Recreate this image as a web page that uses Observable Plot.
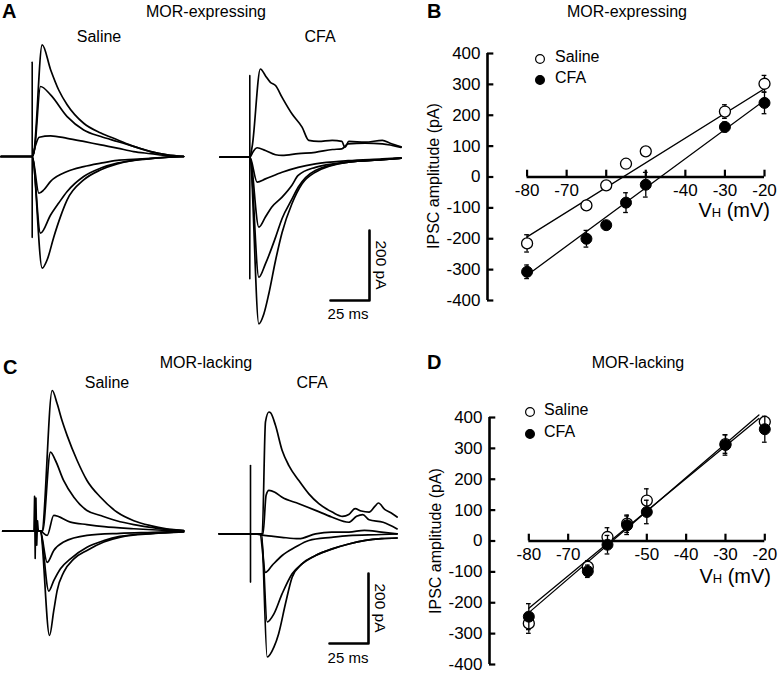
<!DOCTYPE html>
<html>
<head>
<meta charset="utf-8">
<script src="https://cdn.jsdelivr.net/npm/d3@7"></script>
<script src="https://cdn.jsdelivr.net/npm/@observablehq/plot@0.6"></script>
<style>
  body { margin: 0; background: white; }
  #fig { position: relative; width: 779px; height: 673px; overflow: hidden; background: white;
         font-family: "Liberation Sans", Arial, Helvetica, sans-serif; color: black; }
  .lbl { position: absolute; white-space: nowrap; line-height: 1; }
  .pl { position: absolute; }
</style>
</head>
<body>
<div id="fig"></div>
<script>
// ---------------- DATA ----------------
// IV relations (B, D): holding potential (mV) and IPSC amplitude (pA)
const vh = [-80, -65, -60, -55, -50, -30, -20];
const bSaline = [-215, -92, -27, 43, 83, 212, 302];
const bSalineErr = [28, 15, 8, 8, 8, 22, 27];
const bCfa = [-307, -200, -156, -83, -25, 162, 240];
const bCfaErr = [22, 27, 10, 32, 40, 16, 35];
const bFitSaline = [[-80, -194], [-20, 286]];
const bFitCfa = [[-80, -318], [-20, 248]];

const dSaline = [-267, -84, 13, 56, 131, 314, 386];
const dSalineErr = [32, 20, 30, 28, 38, 30, 10];
const dCfa = [-245, -98, -12, 51, 94, 311, 362];
const dCfaErr = [42, 20, 30, 30, 38, 33, 42];
const dFitSaline = [[-80, -232], [-21.5, 408]];
const dFitCfa = [[-80, -218], [-21.5, 397]];

const yTicks = [400, 300, 200, 100, 0, -100, -200, -300, -400];
const xTicks = [-80, -70, -60, -50, -40, -30, -20];
const xLabelsB = [-80, -70, -40, -30, -20];
const xLabelsD = [-80, -70, -50, -40, -30, -20];

// IPSC traces: [time after stimulus (ms), current (pA)]
const aSalTraces = [
  [[-20,0],[0,0],[1,10],[6.4,319],[11.8,248],[17,190],[22.4,148],[33,95],[44,67],[54.5,48],[65,29],[76,14],[86.5,5],[97,0]],
  [[-20,0],[0,0],[1.5,20],[5.3,200],[11.8,176],[22.4,114],[33,76],[44,57],[54.5,43],[65,29],[76,14],[86.5,5],[97,0]],
  [[-20,0],[0,0],[2,30],[4.5,55],[11.8,59],[22.4,52],[33,43],[44,33],[54.5,24],[65,14],[76,8],[86.5,2],[97,0]],
  [[-20,0],[0,0],[4.3,-105],[7.5,-95],[11.8,-71],[22.4,-43],[33,-29],[44,-19],[54.5,-11],[65,-8],[76,-5],[97,0]],
  [[-20,0],[0,0],[5.3,-219],[11.8,-167],[17,-133],[22.4,-100],[33,-57],[44,-33],[54.5,-19],[65,-11],[76,-6],[97,0]],
  [[-20,0],[0,0],[6.4,-319],[9.6,-295],[13.9,-229],[18.2,-171],[22.4,-124],[33,-67],[44,-38],[54.5,-21],[65,-11],[76,-6],[86.5,-2],[97,0]]
];
const aSalArtifact = [[0, 269], [0, -231]];

const aCfaTraces = [
  [[-19,0],[0,0],[1.5,30],[6.8,252],[10,233],[13.2,214],[16.5,205],[20.7,171],[27,124],[33.5,86],[37.8,48],[44,45],[52.8,48],[59,45],[61,28],[63.5,45],[74,43],[85,48],[90,40],[97,30]],
  [[-19,0],[0,0],[2,15],[4.7,27],[10,19],[16.5,7],[20.7,5],[31,10],[42,14],[53,22],[59,24],[63,38],[74,40],[85,38],[97,28]],
  [[-19,0],[0,0],[4.7,-71],[10,-62],[20.7,-43],[31,-29],[42,-19],[63,-10],[85,-5],[97,-2]],
  [[-19,0],[0,0],[5.8,-200],[10,-171],[14,-143],[20.7,-114],[27,-80],[31,-52],[42,-29],[63,-14],[85,-7],[97,-3]],
  [[-19,0],[0,0],[5.8,-343],[10,-305],[16.5,-229],[20.7,-175],[27,-120],[31,-86],[42,-38],[63,-14],[85,-7],[97,-3]],
  [[-19,0],[0,0],[5.8,-476],[9,-448],[12.2,-390],[16.5,-295],[20.7,-215],[27,-133],[33.5,-76],[42,-43],[63,-14],[85,-7],[97,-3]]
];
const aCfaArtifact = [[0, 233], [0, -347]];

const cSalTraces = [
  [[-21,0],[0,0],[4,0],[10.7,402],[13.9,364],[17,316],[20.3,273],[26.7,202],[33,145],[41.7,97],[52.4,54],[63,30],[73.7,16],[84,7],[95,2]],
  [[-21,0],[0,0],[4.5,0],[9.6,226],[12.8,202],[18,145],[24.6,97],[33,59],[41.7,45],[52,30],[63,19],[74,11],[84,5],[95,2]],
  [[-21,0],[0,0],[3,0],[7.5,-12],[11.7,45],[22.4,26],[33,19],[44,13],[63,7],[84,2],[95,0]],
  [[-21,0],[0,0],[3,0],[7.5,-89],[11.7,-55],[18,-31],[33,-12],[54,-6],[75,-3],[95,0]],
  [[-21,0],[0,0],[3,0],[8.5,-171],[11.7,-141],[16,-107],[22.4,-79],[33,-46],[43.8,-27],[54,-15],[75,-6],[95,-2]],
  [[-21,0],[0,0],[3,0],[9,-298],[11.7,-227],[13.9,-169],[18.1,-117],[24.6,-79],[33,-55],[43.8,-31],[54.5,-17],[75,-7],[95,-2]]
];
const cSalArtifact = [[-1,0],[-0.6,100],[-0.2,-78],[0.3,95],[0.8,-40],[1.3,30],[1.8,0]];

const cCfaTraces = [
  [[-20,0],[0,0],[7.5,0],[9.6,320],[11.8,348],[13,345],[16,310],[20.3,238],[24.6,195],[31,152],[37.4,114],[43.8,86],[52.4,62],[59,50],[63,55],[67,72],[71,65],[76,62],[80,80],[82,88],[86,70],[90,60],[94,48]],
  [[-20,0],[0,0],[8,0],[10,110],[11.8,124],[15.6,119],[20,105],[31,86],[41.7,67],[52,48],[63,33],[68,50],[72,55],[76,40],[85,33],[94,14]],
  [[-20,0],[0,0],[10,-5],[20,-10],[31,-14],[41.7,0],[52,5],[63,5],[73,10],[84,5],[94,0]],
  [[-20,0],[0,0],[6,0],[9.6,-110],[13.9,-90],[20.3,-62],[28.8,-38],[37.4,-19],[52,-10],[63,-5],[84,-2],[94,0]],
  [[-20,0],[0,0],[7,0],[10.7,-252],[15,-229],[20.3,-171],[26.7,-114],[33,-86],[41.7,-62],[52.4,-43],[63,-29],[73.7,-19],[84,-14],[94,-12]],
  [[-20,0],[0,0],[7,0],[10.7,-352],[15,-324],[18,-286],[22.4,-200],[26.7,-124],[33,-86],[41.7,-62],[52.4,-43],[63,-29],[73.7,-19],[84,-14],[94,-12]]
];
const cCfaArtifact = [[0, 195], [0, -138]];

const scaleBarMs = 25;
const scaleBarPA = 200;

// ---------------- LAYOUT ----------------
const PX_MS = 39 / 25;     // pixels per ms
const PX_PA = 70 / 200;    // pixels per pA
const FONT = '"Liberation Sans", Arial, Helvetica, sans-serif';
const fig = document.getElementById("fig");

function label(html, x, y, o = {}) {
  const d = document.createElement("div");
  d.className = "lbl";
  d.innerHTML = html;
  d.style.left = x + "px";
  d.style.top = y + "px";
  d.style.fontSize = (o.size || 16) + "px";
  if (o.bold) d.style.fontWeight = "bold";
  const tx = o.anchor === "start" ? "0" : o.anchor === "end" ? "-100%" : "-50%";
  d.style.transform = `translate(${tx}, -50%)` + (o.rotate ? ` rotate(${o.rotate}deg)` : "");
  fig.appendChild(d);
}

function place(svg, left, top) {
  const w = document.createElement("div");
  w.className = "pl";
  w.style.left = left + "px";
  w.style.top = top + "px";
  w.appendChild(svg);
  fig.appendChild(w);
}

function tracePlot(traces, artifact, rect, origin, bar) {
  const xd = [(rect.left - origin.x) / PX_MS, (rect.left + rect.width - origin.x) / PX_MS];
  const yd = [(origin.y - rect.top - rect.height) / PX_PA, (origin.y - rect.top) / PX_PA];
  const rows = traces.flatMap((tr, k) => tr.map(([t, I]) => ({t, I, k})));
  const marks = [
    Plot.line(rows, {x: "t", y: "I", z: "k", stroke: "black", strokeWidth: 1.7, curve: "monotone-x"}),
    Plot.line(artifact, {x: d => d[0], y: d => d[1], stroke: "black", strokeWidth: 1.6})
  ];
  if (bar) {
    const ct = (bar.x - origin.x) / PX_MS, cI = (origin.y - bar.y) / PX_PA;
    marks.push(Plot.line([[ct - scaleBarMs, cI], [ct, cI], [ct, cI + scaleBarPA]],
      {x: d => d[0], y: d => d[1], stroke: "black", strokeWidth: 2.6}));
  }
  const svg = Plot.plot({
    width: rect.width, height: rect.height, margin: 0,
    x: {domain: xd, axis: null}, y: {domain: yd, axis: null},
    style: {background: "transparent", maxWidth: "none", overflow: "visible"},
    marks
  });
  place(svg, rect.left, rect.top);
}

function ivPlot(cfg) {
  const sal = vh.map((v, i) => ({v, y: cfg.saline[i], e: cfg.salineErr[i]}));
  const cfa = vh.map((v, i) => ({v, y: cfg.cfa[i], e: cfg.cfaErr[i]}));
  const errMarks = data => [
    Plot.ruleX(data, {x: "v", y1: d => d.y - d.e, y2: d => d.y + d.e, stroke: "black", strokeWidth: 1.3}),
    Plot.ruleY(data, {x1: d => d.v - 0.6, x2: d => d.v + 0.6, y: d => d.y + d.e, stroke: "black", strokeWidth: 1.3}),
    Plot.ruleY(data, {x1: d => d.v - 0.6, x2: d => d.v + 0.6, y: d => d.y - d.e, stroke: "black", strokeWidth: 1.3})
  ];
  const svg = Plot.plot({
    width: cfg.width, height: cfg.height,
    marginLeft: cfg.ml, marginRight: cfg.mr, marginTop: cfg.mt, marginBottom: cfg.mb,
    x: {domain: [-90, -20], axis: null},
    y: {domain: [-400, 400]},
    style: {background: "transparent", maxWidth: "none", overflow: "visible", fontSize: "17px", fontFamily: FONT, color: "black"},
    marks: [
      Plot.axisY(yTicks, {tickSize: 0, tickPadding: 7, tickFormat: d => String(d), fontSize: 17, label: null}),
      Plot.ruleX([-90], {y1: -400, y2: 400, stroke: "black", strokeWidth: 2.6}),
      Plot.ruleY(yTicks, {x1: -90, x2: -88.4, stroke: "black", strokeWidth: 2.2}),
      Plot.ruleY([0], {x1: -80, x2: -20, stroke: "black", strokeWidth: 2.6}),
      Plot.ruleX(xTicks, {y1: 0, y2: 22, stroke: "black", strokeWidth: 2.2}),
      Plot.text(cfg.xLabels, {x: d => d, y: 0, dy: 14, text: d => String(d), fontSize: 17, fill: "black"}),
      Plot.line(cfg.fitSaline, {x: d => d[0], y: d => d[1], stroke: "black", strokeWidth: 1.3}),
      Plot.line(cfg.fitCfa, {x: d => d[0], y: d => d[1], stroke: "black", strokeWidth: 1.3}),
      ...errMarks(sal),
      Plot.dot(sal, {x: "v", y: "y", r: 5.5, fill: "white", stroke: "black", strokeWidth: 1.3}),
      ...errMarks(cfa),
      Plot.dot(cfa, {x: "v", y: "y", r: 5.5, fill: "black", stroke: "black", strokeWidth: 1})
    ]
  });
  place(svg, cfg.left, cfg.top);
}

function legend(x, y1, y2, tx) {
  const mk = (cy, fill) => {
    const d = document.createElement("div");
    d.className = "pl";
    d.style.left = (x - 6) + "px"; d.style.top = (cy - 6) + "px";
    d.innerHTML = `<svg width="12" height="12"><circle cx="6" cy="6" r="4.4" fill="${fill}" stroke="black" stroke-width="1.2"/></svg>`;
    fig.appendChild(d);
  };
  mk(y1, "white"); mk(y2, "black");
  label("Saline", tx, y1, {size: 16, anchor: "start"});
  label("CFA", tx, y2, {size: 16, anchor: "start"});
}

// ---------------- PANEL A ----------------
label("A", 2, 11, {size: 20, bold: true, anchor: "start"});
label("MOR-expressing", 206, 12, {size: 16});
label("Saline", 99, 37, {size: 16});
label("CFA", 320, 37, {size: 16});
tracePlot(aSalTraces, aSalArtifact, {left: 0, top: 30, width: 190, height: 280}, {x: 31.7, y: 156});
tracePlot(aCfaTraces, aCfaArtifact, {left: 210, top: 30, width: 192, height: 305}, {x: 249.3, y: 156.7}, {x: 369, y: 300});
label("200 pA", 381, 265, {size: 15.5, rotate: 90});
label("25 ms", 348, 313, {size: 15});

// ---------------- PANEL C ----------------
label("C", 3, 367, {size: 20, bold: true, anchor: "start"});
label("MOR-lacking", 206, 363, {size: 16});
label("Saline", 107, 383, {size: 16});
label("CFA", 312, 383, {size: 16});
tracePlot(cSalTraces, cSalArtifact, {left: 0, top: 380, width: 190, height: 275}, {x: 35, y: 530.7});
tracePlot(cCfaTraces, cCfaArtifact, {left: 210, top: 390, width: 192, height: 280}, {x: 250, y: 533.3}, {x: 368, y: 643});
label("200 pA", 380, 608, {size: 15.5, rotate: 90});
label("25 ms", 348, 657, {size: 15});

// ---------------- PANEL B ----------------
label("B", 427, 11, {size: 20, bold: true, anchor: "start"});
label("MOR-expressing", 627, 12, {size: 16});
ivPlot({left: 400, top: 30, width: 379, height: 290, ml: 87, mr: 15, mt: 23, mb: 20,
  saline: bSaline, salineErr: bSalineErr, cfa: bCfa, cfaErr: bCfaErr,
  fitSaline: bFitSaline, fitCfa: bFitCfa, xLabels: xLabelsB});
label("IPSC amplitude (pA)", 434, 176, {size: 16, rotate: -90});
label('V<span style="font-size:13px">H</span> (mV)', 770, 210, {size: 20, anchor: "end"});
legend(540, 57, 78, 555);

// ---------------- PANEL D ----------------
label("D", 427, 362, {size: 20, bold: true, anchor: "start"});
label("MOR-lacking", 638, 363, {size: 16});
ivPlot({left: 400, top: 380, width: 379, height: 293, ml: 89, mr: 14.7, mt: 37, mb: 9,
  saline: dSaline, salineErr: dSalineErr, cfa: dCfa, cfaErr: dCfaErr,
  fitSaline: dFitSaline, fitCfa: dFitCfa, xLabels: xLabelsD});
label("IPSC amplitude (pA)", 436, 541, {size: 16, rotate: -90});
label('V<span style="font-size:13px">H</span> (mV)', 771, 576, {size: 20, anchor: "end"});
legend(530, 410, 432, 544);
</script>
</body>
</html>
